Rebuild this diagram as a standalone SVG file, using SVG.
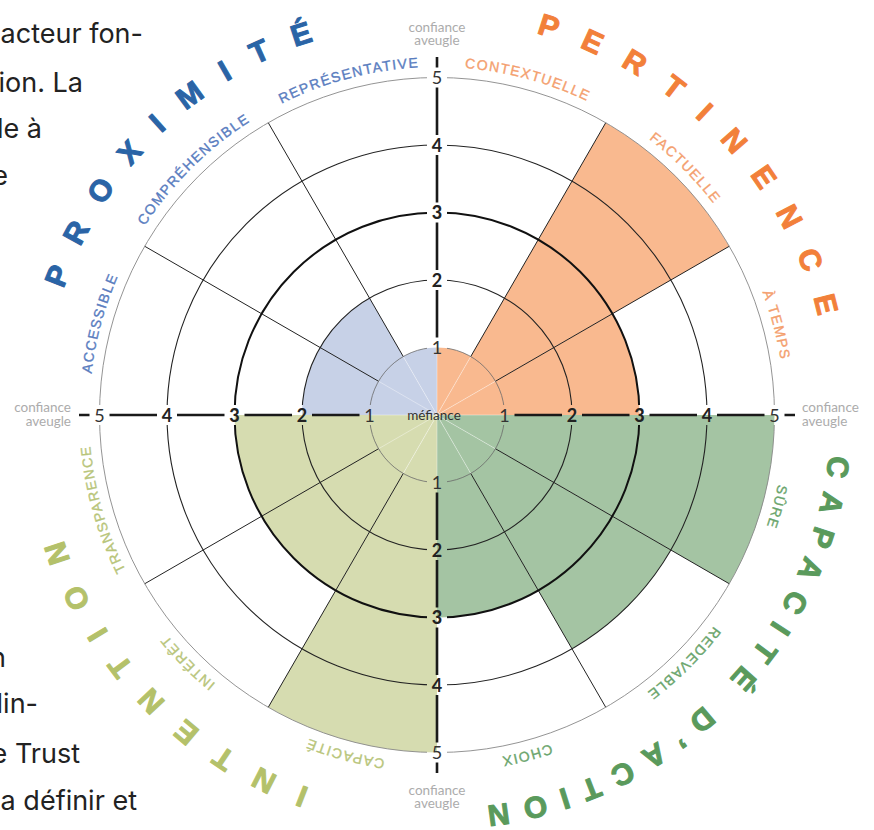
<svg xmlns="http://www.w3.org/2000/svg" width="874" height="830" viewBox="0 0 874 830">
<defs>
<style>
.body{font-family:Inter,"Liberation Sans",sans-serif;font-size:27px;fill:#222;text-anchor:end}
.num{font-family:Lato,"Liberation Sans",sans-serif;font-size:18px;fill:#222;text-anchor:middle}
.n1,.n5{font-weight:400;fill:#333}
.n2,.n4{font-weight:700}
.n3{font-weight:900}
.conf{font-family:Lato,"Liberation Sans",sans-serif;font-size:13.5px;fill:#acacac}
.sub{font-family:"Liberation Sans",Arial,sans-serif;font-size:14px;letter-spacing:1.4px;text-anchor:middle;stroke-width:0.35}
.title{font-family:"Liberation Sans",Arial,sans-serif;font-size:30px;font-weight:700;letter-spacing:25px;text-anchor:middle;stroke-width:1;stroke-linejoin:round}
.ring{fill:none}
.rad{stroke:#222;stroke-width:1}
.inner{stroke:#fff;stroke-opacity:0.55;stroke-width:0.7}
.axis{stroke:#1a1a1a;stroke-width:2.6}
.blue{fill:#c7d1e7}.orange{fill:#f9b98f}.green{fill:#a4c4a3}.olive{fill:#d6dcb0}
.so{fill:#f4a06e;stroke:#f4a06e}.sg{fill:#6aa56c;stroke:#6aa56c}.sv{fill:#b8c57a;stroke:#b8c57a}.sb{fill:#5a7dbf;stroke:#5a7dbf}
</style>
<path id="subPath" d="M437,67 A348,348 0 0 1 437,763 A348,348 0 0 1 437,67"/>
<path id="titlePath" d="M437,21 A394,394 0 0 1 437,809 A394,394 0 0 1 437,21"/>
<mask id="gapMask" maskUnits="userSpaceOnUse" x="0" y="0" width="874" height="830">
<rect width="874" height="830" fill="#fff"/>
<g fill="#000">
<rect x="494.5" y="405" width="20" height="20"/><rect x="562" y="405" width="20" height="20"/><rect x="629.5" y="405" width="20" height="20"/><rect x="697" y="405" width="20" height="20"/><rect x="764.5" y="405" width="20" height="20"/>
<rect x="359.5" y="405" width="20" height="20"/><rect x="292" y="405" width="20" height="20"/><rect x="224.5" y="405" width="20" height="20"/><rect x="157" y="405" width="20" height="20"/><rect x="89.5" y="405" width="20" height="20"/>
<rect x="427" y="337.5" width="20" height="20"/><rect x="427" y="270" width="20" height="20"/><rect x="427" y="202.5" width="20" height="20"/><rect x="427" y="135" width="20" height="20"/><rect x="427" y="67.5" width="20" height="20"/>
<rect x="427" y="472.5" width="20" height="20"/><rect x="427" y="540" width="20" height="20"/><rect x="427" y="607.5" width="20" height="20"/><rect x="427" y="675" width="20" height="20"/><rect x="427" y="742.5" width="20" height="20"/>
</g>
</mask>
</defs>
<rect width="874" height="830" fill="#fff"/>

<g id="page-text">
<text class="body" x="143" y="43">acteur fon-</text>
<text class="body" x="83" y="92">ion. La</text>
<text class="body" x="42" y="138">le à</text>
<text class="body" x="8" y="185">e</text>
<text class="body" x="6" y="667">n</text>
<text class="body" x="38" y="713">lin-</text>
<text class="body" x="80" y="763">e Trust</text>
<text class="body" x="137" y="810">a définir et</text>
</g>

<g id="fills">
<g id="pertinence-fill" class="orange">
<path d="M437,415 L437,347.5 A67.5,67.5 0 0 1 470.75,356.543 Z"/>
<path d="M437,415 L605.75,122.716 A337.5,337.5 0 0 1 729.284,246.25 Z"/>
<path d="M437,415 L612.37,313.75 A202.5,202.5 0 0 1 639.5,415 Z"/>
</g>
<g id="capacite-fill" class="green">
<path d="M437,415 L774.5,415 A337.5,337.5 0 0 1 729.284,583.75 Z"/>
<path d="M437,415 L670.827,550 A270,270 0 0 1 572,648.827 Z"/>
<path d="M437,415 L538.25,590.37 A202.5,202.5 0 0 1 437,617.5 Z"/>
</g>
<g id="intention-fill" class="olive">
<path d="M437,415 L437,752.5 A337.5,337.5 0 0 1 268.25,707.284 Z"/>
<path d="M437,415 L335.75,590.37 A202.5,202.5 0 0 1 234.5,415 Z"/>
</g>
<g id="proximite-fill" class="blue">
<path d="M437,415 L302,415 A135,135 0 0 1 369.5,298.087 Z"/>
<path d="M437,415 L403.25,356.543 A67.5,67.5 0 0 1 437,347.5 Z"/>
</g>
</g>

<g id="inner-lines" class="inner">
<line x1="437" y1="415" x2="437" y2="347.5"/>
<line x1="437" y1="415" x2="470.75" y2="356.543"/>
<line x1="437" y1="415" x2="495.457" y2="381.25"/>
<line x1="437" y1="415" x2="504.5" y2="415"/>
<line x1="437" y1="415" x2="495.457" y2="448.75"/>
<line x1="437" y1="415" x2="470.75" y2="473.457"/>
<line x1="437" y1="415" x2="437" y2="482.5"/>
<line x1="437" y1="415" x2="403.25" y2="473.457"/>
<line x1="437" y1="415" x2="378.543" y2="448.75"/>
<line x1="437" y1="415" x2="369.5" y2="415"/>
<line x1="437" y1="415" x2="378.543" y2="381.25"/>
<line x1="437" y1="415" x2="403.25" y2="356.543"/>
</g>

<g id="radial-lines" class="rad">
<line x1="470.75" y1="356.543" x2="605.75" y2="122.716"/>
<line x1="495.457" y1="381.25" x2="729.284" y2="246.25"/>
<line x1="495.457" y1="448.75" x2="729.284" y2="583.75"/>
<line x1="470.75" y1="473.457" x2="605.75" y2="707.284"/>
<line x1="403.25" y1="473.457" x2="268.25" y2="707.284"/>
<line x1="378.543" y1="448.75" x2="144.716" y2="583.75"/>
<line x1="378.543" y1="381.25" x2="144.716" y2="246.25"/>
<line x1="403.25" y1="356.543" x2="268.25" y2="122.716"/>
</g>

<g id="grid" mask="url(#gapMask)">
<circle class="ring" cx="437" cy="415" r="67.5" stroke="#6a6a6a" stroke-width="0.8"/>
<circle class="ring" cx="437" cy="415" r="135" stroke="#222" stroke-width="1.1"/>
<circle class="ring" cx="437" cy="415" r="202.5" stroke="#111" stroke-width="2"/>
<circle class="ring" cx="437" cy="415" r="270" stroke="#222" stroke-width="1.1"/>
<circle class="ring" cx="437" cy="415" r="337.5" stroke="#888" stroke-width="0.9"/>
<g id="axes" class="axis">
<line x1="504.5" y1="415" x2="795" y2="415"/>
<line x1="369.5" y1="415" x2="79" y2="415"/>
<line x1="437" y1="347.5" x2="437" y2="57"/>
<line x1="437" y1="482.5" x2="437" y2="773"/>
</g>
</g>

<g id="axis-numbers" class="num">
<text class="n1" x="504.5" y="421.5">1</text><text class="n2" x="572" y="421.5">2</text><text class="n3" x="639.5" y="421.5">3</text><text class="n4" x="707" y="421.5">4</text><text class="n5" x="774.5" y="421.5">5</text>
<text class="n1" x="369.5" y="421.5">1</text><text class="n2" x="302" y="421.5">2</text><text class="n3" x="234.5" y="421.5">3</text><text class="n4" x="167" y="421.5">4</text><text class="n5" x="99.5" y="421.5">5</text>
<text class="n1" x="437" y="354">1</text><text class="n2" x="437" y="286.5">2</text><text class="n3" x="437" y="219">3</text><text class="n4" x="437" y="151.5">4</text><text class="n5" x="437" y="84">5</text>
<text class="n1" x="437" y="489">1</text><text class="n2" x="437" y="556.5">2</text><text class="n3" x="437" y="624">3</text><text class="n4" x="437" y="691.5">4</text><text class="n5" x="437" y="759">5</text>
</g>

<text id="mefiance" x="434" y="420" font-family="Lato,'Liberation Sans',sans-serif" font-size="13.5" fill="#333" text-anchor="middle">méfiance</text>

<g id="confiance-labels" class="conf">
<text x="437" y="32" text-anchor="middle">confiance</text><text x="437" y="45" text-anchor="middle">aveugle</text>
<text x="437" y="795" text-anchor="middle">confiance</text><text x="437" y="808" text-anchor="middle">aveugle</text>
<text x="71" y="412" text-anchor="end">confiance</text><text x="71" y="426" text-anchor="end">aveugle</text>
<text x="802" y="412">confiance</text><text x="802" y="426">aveugle</text>
</g>

<g id="sub-labels" class="sub">
<text class="so"><textPath href="#subPath" startOffset="91.9">CONTEXTUELLE</textPath></text>
<text class="so"><textPath href="#subPath" startOffset="274.1">FACTUELLE</textPath></text>
<text class="so"><textPath href="#subPath" startOffset="456.3">À TEMPS</textPath></text>
<text class="sg"><textPath href="#subPath" startOffset="638.5">SÛRE</textPath></text>
<text class="sg"><textPath href="#subPath" startOffset="820.7">REDEVABLE</textPath></text>
<text class="sg"><textPath href="#subPath" startOffset="1003">CHOIX</textPath></text>
<text class="sv"><textPath href="#subPath" startOffset="1185.2">CAPACITÉ</textPath></text>
<text class="sv"><textPath href="#subPath" startOffset="1367.4">INTÉRÊT</textPath></text>
<text class="sv"><textPath href="#subPath" startOffset="1543.5">TRANSPARENCE</textPath></text>
<text class="sb"><textPath href="#subPath" startOffset="1731.8">ACCESSIBLE</textPath></text>
<text class="sb"><textPath href="#subPath" startOffset="1914">COMPRÉHENSIBLE</textPath></text>
<text class="sb"><textPath href="#subPath" startOffset="2096.2">REPRÉSENTATIVE</textPath></text>
</g>

<g id="titles" class="title">
<text id="t-pertinence" fill="#f2803a" stroke="#f2803a"><textPath href="#titlePath" startOffset="322">PERTINENCE</textPath></text>
<text id="t-capacite" fill="#5a9a5c" stroke="#5a9a5c" style="letter-spacing:14px"><textPath href="#titlePath" startOffset="930">CAPACITÉ D’ACTION</textPath></text>
<text id="t-intention" fill="#b4c16a" stroke="#b4c16a"><textPath href="#titlePath" startOffset="1560">INTENTION</textPath></text>
<text id="t-proximite" fill="#2a64a6" stroke="#2a64a6"><textPath href="#titlePath" startOffset="2178.6">PROXIMITÉ</textPath></text>
</g>
</svg>
